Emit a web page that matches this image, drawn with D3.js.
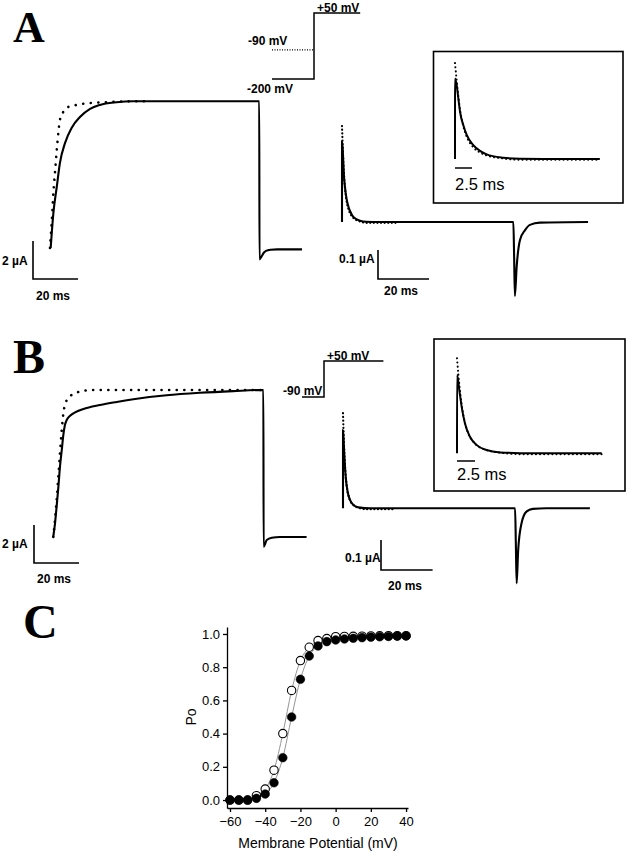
<!DOCTYPE html>
<html><head><meta charset="utf-8">
<script src="https://cdn.jsdelivr.net/npm/d3@7"></script>
<style>body{margin:0;background:#fff}svg{display:block}</style>
</head><body>
<script>
// ---------- DATA ----------
// Panel A, outward current (time ms, current µA)
const mainA_rec = [[0.3,0],[1.5,1.84],[3.0,3.21],[4.4,4.47],[6.7,5.53],[9.6,6.32],[13.3,6.89],[17.8,7.32],[22.2,7.53],[29.6,7.67],[36.9,7.72],[93.0,7.72],[93.1,-0.6],[94,-0.45],[95,-0.25],[96,-0.15],[98,-0.09],[101,-0.07],[112,-0.07]];
const mainA_fit = [[0,0],[0.44,0.79],[1.0,1.84],[1.5,2.89],[2.2,3.95],[3.0,5.16],[3.7,6.05],[4.4,6.74],[5.9,7.16],[8.1,7.42],[11.9,7.53],[17.8,7.63],[26.7,7.68],[36.9,7.72],[45,7.72]];
// Panel A, gating current tail (time ms, current µA)
const tailA_rec = [[0,0],[0.01,0.278],[0.25,0.255],[0.49,0.209],[0.74,0.163],[1.22,0.117],[1.72,0.083],[2.69,0.048],[3.68,0.028],[4.66,0.016],[7.1,0.0045],[9.56,0.001],[14.4,0],[21.3,0],[67.2,0],[67.5,-0.12],[67.8,-0.255],[68.5,-0.154],[69.8,-0.062],[71.8,-0.028],[73.7,-0.010],[77.6,-0.002],[96.5,0]];
const tailA_fit = [[0,0.331],[0.25,0.27],[0.5,0.215],[0.75,0.168],[1.2,0.115],[1.7,0.078],[2.7,0.040],[3.7,0.022],[4.7,0.012],[7,0.002],[10,-0.003],[21.3,-0.003]];
// Panel B
const mainB_rec = [[0.1,0],[0.9,0.72],[1.6,1.59],[2.4,2.65],[3.1,3.70],[3.9,4.58],[4.6,5.37],[5.3,5.89],[6.1,6.16],[7.6,6.38],[9.8,6.56],[13.5,6.74],[20.9,6.95],[28.3,7.11],[35.7,7.25],[50.5,7.46],[65.3,7.59],[80.1,7.68],[93.5,7.74],[93.6,-0.51],[95,-0.16],[97.2,-0.04],[100.9,0],[112.7,0]];
const mainB_fit = [[0.1,0],[0.8,0.8],[1.5,1.8],[2.2,2.9],[2.8,3.9],[3.4,4.9],[4.0,5.8],[4.6,6.5],[5.3,6.95],[6.8,7.3],[8.3,7.48],[12,7.65],[17.9,7.74],[93.5,7.74]];
const tailB_rec = [[0,0],[0.01,0.261],[0.32,0.211],[0.65,0.155],[1.1,0.1],[1.8,0.055],[2.7,0.028],[4.1,0.011],[6.0,0.003],[10.6,0],[20.1,0],[66.7,0],[67.0,-0.12],[67.3,-0.25],[67.9,-0.139],[69.2,-0.05],[71.1,-0.011],[73.6,-0.002],[78.8,0],[95.7,0]];
const tailB_fit = [[0,0.317],[0.2,0.26],[0.5,0.19],[0.9,0.125],[1.5,0.07],[2.4,0.035],[3.8,0.013],[6,0.002],[9,-0.003],[20.1,-0.003]];
// Voltage protocols (arbitrary time units, mV)
const protoA = [[0,-200],[1,-200],[1,50],[2.1,50]];
const holdA = [[0,-90],[1,-90]];
const protoB = [[0,-90],[1,-90],[1,50],[3.7,50]];
// Scale-bar values
const barMain = [20, 2];      // ms, µA
const barTail = [20, 0.1];    // ms, µA
const barInset = 2.5;         // ms
// Panel C: open probability
const potentials = [-60,-55,-50,-45,-40,-35,-30,-25,-20,-15,-10,-5,0,5,10,15,20,25,30,35,40];
const poOpen   = [0.00,0.00,0.00,0.026,0.066,0.18,0.40,0.66,0.84,0.92,0.96,0.972,0.984,0.985,0.986,0.987,0.988,0.989,0.99,0.99,0.99];
const poFilled = [0.00,0.00,0.00,0.01,0.036,0.104,0.255,0.50,0.727,0.867,0.928,0.954,0.964,0.97,0.974,0.978,0.981,0.983,0.985,0.987,0.988];
const xTicksC = [-60,-40,-20,0,20,40];
const yTicksC = [0.0,0.2,0.4,0.6,0.8,1.0];

// ---------- DRAW ----------
const svg = d3.select("body").append("svg").attr("width",627).attr("height",853)
  .style("font-family","'Liberation Sans', Arial, sans-serif");

function trace(data, xs, ys, dotted, opts={}) {
  const line = d3.line().x(d=>xs(d[0])).y(d=>ys(d[1])).curve(d3.curveMonotoneX);
  const p = svg.append("path").attr("d", line(data)).attr("fill","none").attr("stroke","#000")
    .attr("stroke-linejoin","round");
  if (dotted) {
    p.attr("stroke-width", opts.w||2.6).attr("stroke-linecap","round").attr("stroke-dasharray", opts.dash||"0.1,7.5");
  } else {
    p.attr("stroke-width", opts.w||2.1);
  }
  return p;
}
function label(x,y,txt,opts={}) {
  svg.append("text").attr("x",x).attr("y",y).text(txt)
    .attr("font-size", opts.size||12).attr("font-weight", opts.weight||"bold")
    .attr("text-anchor", opts.anchor||"start").attr("fill","#000");
}
function scaleBar(cx, cy, xs, ys, dt, dI) {
  const w = xs(dt)-xs(0), h = ys(0)-ys(dI);
  svg.append("path").attr("d", `M${cx},${cy-h}V${cy}H${cx+w}`)
    .attr("fill","none").attr("stroke","#000").attr("stroke-width",1.6);
}
function panelLetter(x,y,t,size){
  svg.append("text").attr("x",x).attr("y",y).text(t)
    .attr("font-family","'Liberation Serif','Times New Roman',serif")
    .attr("font-weight","bold").attr("font-size",size||48).attr("fill","#000");
}

// ===== Panel A =====
panelLetter(13,42,"A",44);
const xMainA = d3.scaleLinear([0,112],[50,302]);
const yMainA = d3.scaleLinear([0,7.72],[248,101.3]);
trace(mainA_fit, xMainA, yMainA, true);
trace(mainA_rec, xMainA, yMainA, false);
scaleBar(33,279,xMainA,yMainA,barMain[0],barMain[1]);
label(2,265,"2 µA"); label(36,300,"20 ms");

// protocol A
const pxA = d3.scaleLinear([0,1],[272,314]);
const pvA = d3.scaleLinear([-200,50],[79,13]);
const pl = (xs,ys)=>d3.line().x(d=>xs(d[0])).y(d=>ys(d[1]));
svg.append("path").attr("d",pl(pxA,pvA)(protoA)).attr("fill","none").attr("stroke","#000").attr("stroke-width",1.5);
svg.append("path").attr("d",pl(pxA,pvA)(holdA)).attr("fill","none").attr("stroke","#000").attr("stroke-width",1.2).attr("stroke-dasharray","1,1.5");
label(317,12,"+50 mV"); label(248,45,"-90 mV"); label(247,93,"-200 mV");

// tail A
const xTailA = d3.scaleLinear([0,20],[342,393]);
const yTailA = d3.scaleLinear([0,0.1],[222,193]);
trace(tailA_fit, xTailA, yTailA, true, {dash:"0.1,3.5", w:2.2});
trace(tailA_rec, xTailA, yTailA, false);
scaleBar(378,279,xTailA,yTailA,barTail[0],barTail[1]);
label(339,263,"0.1 µA"); label(384,295,"20 ms");

// inset A
svg.append("rect").attr("x",433.5).attr("y",51.5).attr("width",189.5).attr("height",151.5)
  .attr("fill","none").attr("stroke","#000").attr("stroke-width",1.6);
const xInsA = d3.scaleLinear([0,2.5],[455,472]);
const yInsA = d3.scaleLinear([0,0.1],[159,130]);
trace(tailA_fit, xInsA, yInsA, true, {dash:"0.1,4", w:2});
trace(tailA_rec.filter(d=>d[0]<=21.3), xInsA, yInsA, false, {w:2});
svg.append("line").attr("x1",xInsA(0)).attr("x2",xInsA(barInset)).attr("y1",168).attr("y2",168).attr("stroke","#000").attr("stroke-width",1.5);
label(455,190,"2.5 ms",{size:16.5,weight:"normal"});

// ===== Panel B =====
panelLetter(13,373,"B");
const xMainB = d3.scaleLinear([0,20],[53,98]);
const yMainB = d3.scaleLinear([0,2],[537,499]);
trace(mainB_fit, xMainB, yMainB, true);
trace(mainB_rec, xMainB, yMainB, false);
scaleBar(34,563,xMainB,yMainB,barMain[0],barMain[1]);
label(2,548,"2 µA"); label(37,583,"20 ms");

// protocol B
const pxB = d3.scaleLinear([0,1],[302,324]);
const pvB = d3.scaleLinear([-90,50],[397,361]);
svg.append("path").attr("d",pl(pxB,pvB)(protoB)).attr("fill","none").attr("stroke","#000").attr("stroke-width",1.5);
label(327,360,"+50 mV"); label(283,395,"-90 mV");

// tail B
const xTailB = d3.scaleLinear([0,20],[343,394.6]);
const yTailB = d3.scaleLinear([0,0.1],[508.3,478.3]);
trace(tailB_fit, xTailB, yTailB, true, {dash:"0.1,3.5", w:2.2});
trace(tailB_rec, xTailB, yTailB, false);
scaleBar(381,570,xTailB,yTailB,barTail[0],barTail[1]);
label(345,562,"0.1 µA"); label(388,590,"20 ms");

// inset B
svg.append("rect").attr("x",434).attr("y",339).attr("width",191).attr("height",152)
  .attr("fill","none").attr("stroke","#000").attr("stroke-width",1.6);
const xInsB = d3.scaleLinear([0,2.5],[457,475]);
const yInsB = d3.scaleLinear([0,0.1],[453.3,423.3]);
trace(tailB_fit, xInsB, yInsB, true, {dash:"0.1,4", w:2});
trace(tailB_rec.filter(d=>d[0]<=20.1), xInsB, yInsB, false, {w:2});
svg.append("line").attr("x1",xInsB(0)).attr("x2",xInsB(barInset)).attr("y1",461).attr("y2",461).attr("stroke","#000").attr("stroke-width",1.5);
label(457,480,"2.5 ms",{size:16.5,weight:"normal"});

// ===== Panel C =====
panelLetter(23,638,"C");
const xC = d3.scaleLinear([-61.7,41.1],[227,408]);
const yC = d3.scaleLinear([-0.048,1.042],[808,627]);
const gx = svg.append("g").attr("transform","translate(0,808)")
  .call(d3.axisBottom(xC).tickValues(xTicksC).tickSize(4).tickSizeOuter(0).tickPadding(5).tickFormat(d3.format("d")));
const gy = svg.append("g").attr("transform","translate(227,0)")
  .call(d3.axisLeft(yC).tickValues(yTicksC).tickSize(4).tickSizeOuter(0).tickPadding(3).tickFormat(d3.format(".1f")));
[gx,gy].forEach(g=>{
  g.selectAll("path,line").attr("stroke","#000").attr("stroke-width",1.3);
  g.selectAll("text").attr("font-size",13).attr("font-family","'Liberation Sans', Arial, sans-serif").attr("fill","#000");
});
svg.append("text").attr("x",318).attr("y",848).attr("text-anchor","middle").attr("font-size",14).text("Membrane Potential (mV)");
svg.append("text").attr("transform","translate(196,717) rotate(-90)").attr("text-anchor","middle").attr("font-size",14).text("Po");

const fitLine = d3.line().x(d=>xC(d[0])).y(d=>yC(d[1])).curve(d3.curveMonotoneX);
const openPts = potentials.map((v,i)=>[v,poOpen[i]]);
const fillPts = potentials.map((v,i)=>[v,poFilled[i]]);
svg.append("path").attr("d",fitLine(openPts)).attr("fill","none").attr("stroke","#888").attr("stroke-width",0.9);
svg.append("path").attr("d",fitLine(fillPts)).attr("fill","none").attr("stroke","#888").attr("stroke-width",0.9);
svg.append("g").selectAll("circle").data(openPts).join("circle")
  .attr("cx",d=>xC(d[0])).attr("cy",d=>yC(d[1])).attr("r",4.2)
  .attr("fill","#fff").attr("stroke","#000").attr("stroke-width",1.1);
svg.append("g").selectAll("circle").data(fillPts).join("circle")
  .attr("cx",d=>xC(d[0])).attr("cy",d=>yC(d[1])).attr("r",4.3)
  .attr("fill","#000").attr("stroke","#000").attr("stroke-width",0.6);
</script>
</body></html>
